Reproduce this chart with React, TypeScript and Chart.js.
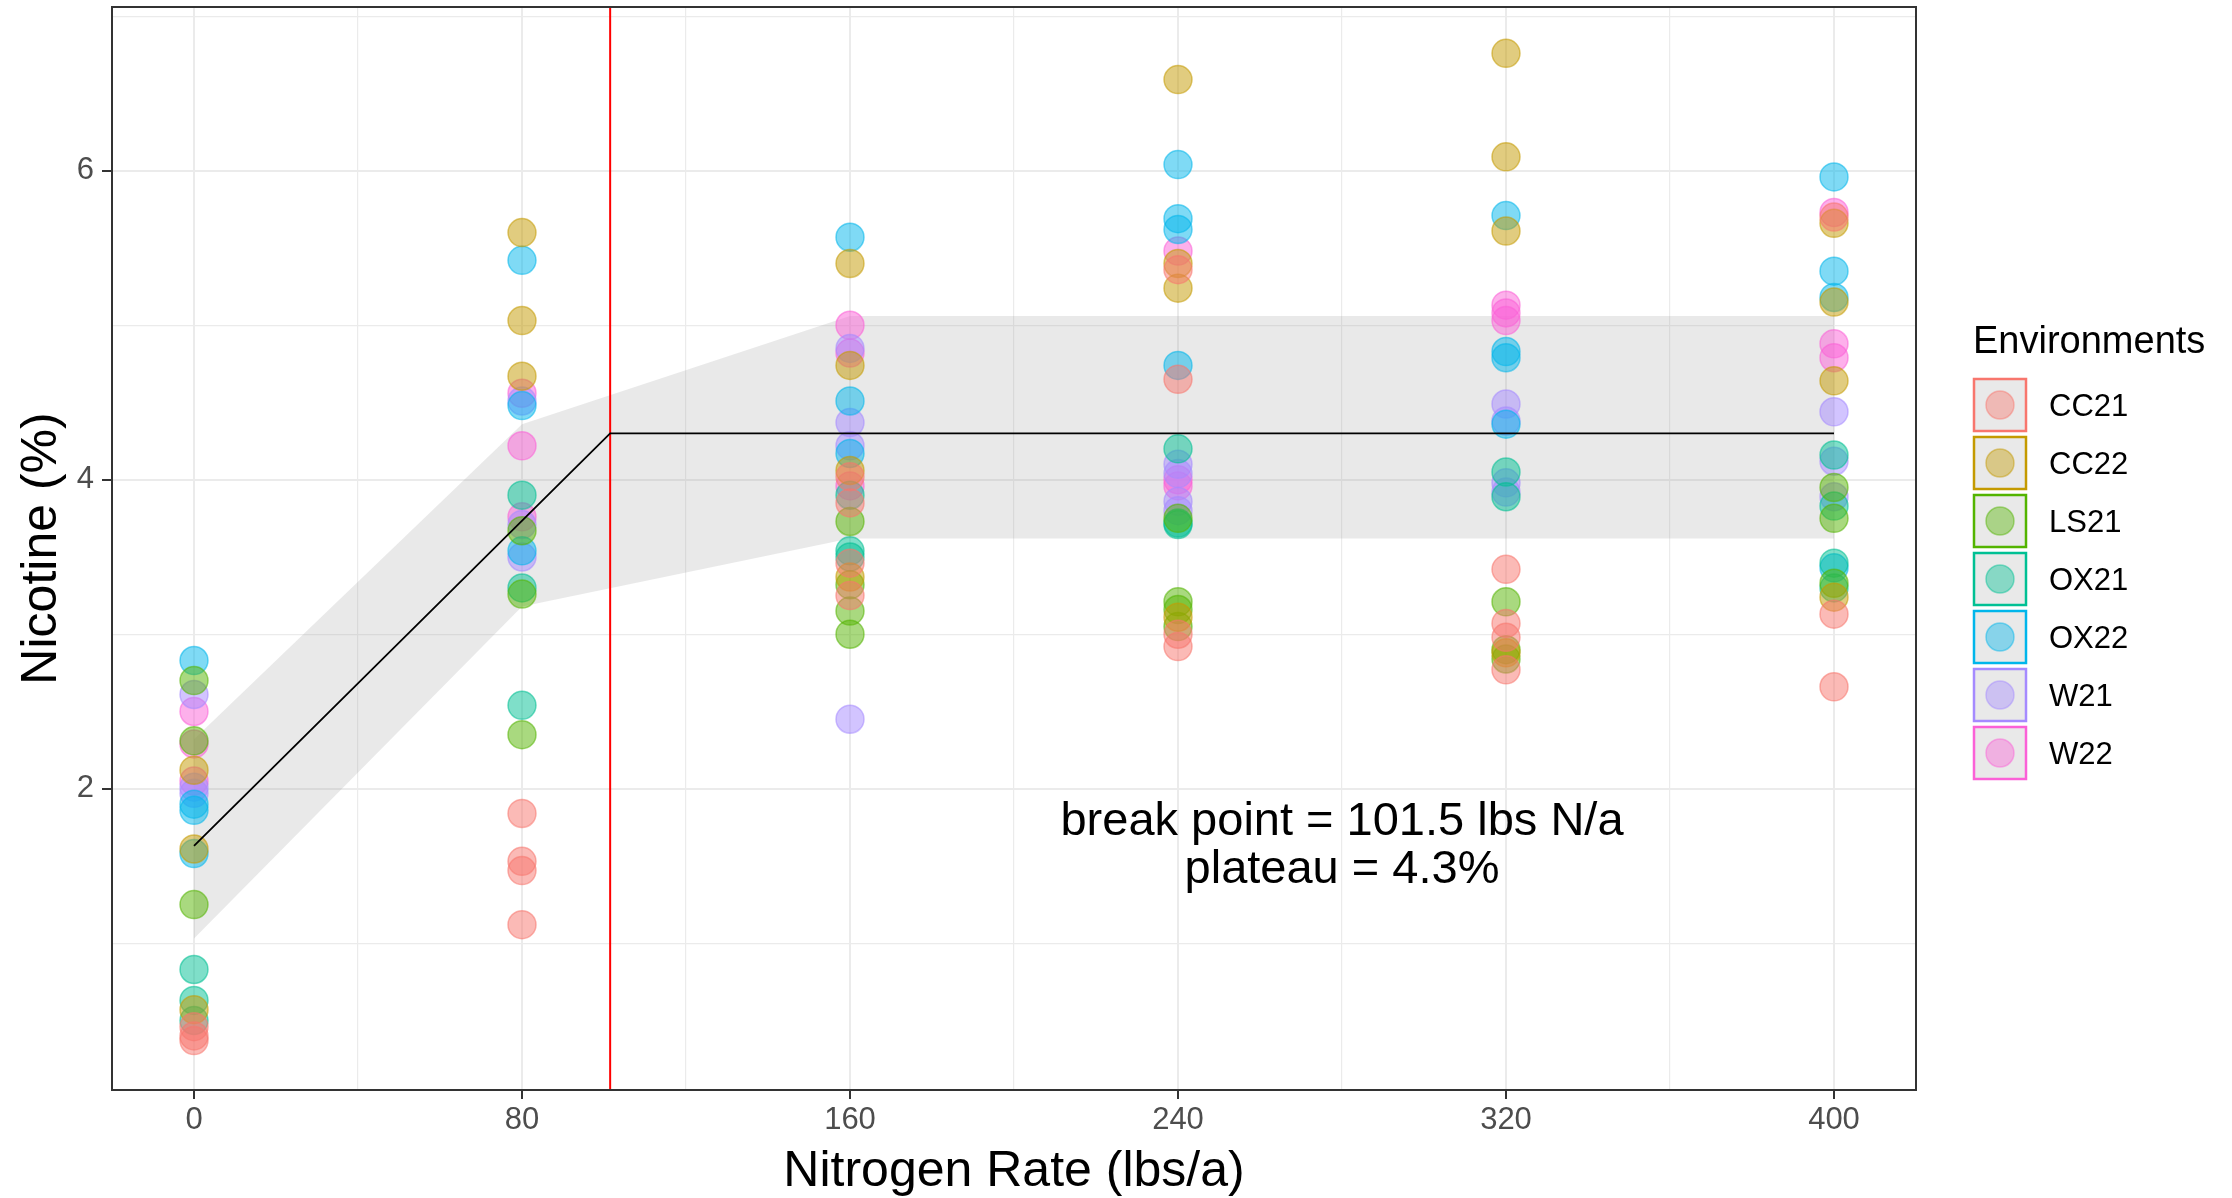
import React, { useEffect, useRef } from 'react';
import { Chart, registerables } from 'chart.js';

Chart.register(...registerables);

const FONT = '"Liberation Sans", Arial, Helvetica, sans-serif';
const W = 2232;
const H = 1198;

// ---- data ----
const rates = [0, 80, 160, 240, 320, 400];
const envNames = ['CC21', 'CC22', 'LS21', 'OX21', 'OX22', 'W21', 'W22'];
const envColors = ['#F8766D', '#C49A00', '#53B400', '#00C094', '#00B6EB', '#A58AFF', '#FB61D7'];

// nicotine (%) per rate (outer index follows `rates`)
const CC21 = [[0.46, 0.40, 0.37], [1.84, 1.53, 1.47, 1.12], [4.02, 3.85, 3.46, 3.25], [5.36, 4.65, 3.00, 2.92], [3.42, 3.07, 2.98, 2.77], [5.70, 3.13, 2.66]];
const CC22 = [[2.12, 1.61, 0.57], [5.60, 5.03, 4.67], [5.40, 4.74, 4.06, 3.37], [6.59, 5.40, 5.24, 3.11], [6.76, 6.09, 5.61, 2.88], [5.66, 5.15, 4.64, 3.24]];
const LS21 = [[2.70, 2.31, 1.25], [3.67, 3.26, 2.35], [3.73, 3.32, 3.15, 3.00], [3.75, 3.21, 3.16, 3.05], [3.21, 2.90, 2.84], [3.95, 3.75, 3.33]];
const OX21 = [[0.83, 0.63, 0.50], [3.90, 3.30, 2.54], [3.90, 3.54, 3.50], [4.20, 3.72, 3.71], [4.05, 3.89], [4.16, 3.83, 3.46, 3.30]];
const OX22 = [[2.83, 1.90, 1.86, 1.58], [5.42, 4.48, 3.54], [5.57, 4.51, 4.17], [6.04, 5.69, 5.62, 4.74], [5.71, 4.83, 4.79, 4.36], [5.96, 5.35, 5.18, 3.43]];
const W21 = [[2.61, 2.01, 1.97], [4.51, 3.71, 3.50], [4.85, 4.37, 4.22, 2.45], [4.10, 4.04, 3.86, 3.80], [4.49, 4.38, 3.98, 3.92], [4.44, 4.12, 3.89]];
const W22 = [[2.50, 2.29, 2.05], [4.56, 4.22, 3.76], [5.00, 4.82, 3.96], [5.48, 4.00, 3.96], [5.13, 5.08, 5.03], [5.73, 4.88, 4.79]];
const envValues = [CC21, CC22, LS21, OX21, OX22, W21, W22];

// segmented fit
const fitX = [0, 101.5, 400];
const fitY = [1.63, 4.3, 4.3];
const breakPoint = 101.5;

// confidence band
const bandX = [0, 80, 160, 240, 320, 400];
const bandLow = [1.03, 3.18, 3.62, 3.62, 3.62, 3.62];
const bandHigh = [2.32, 4.36, 5.06, 5.06, 5.06, 5.06];

// axes
const xTicks = [0, 40, 80, 120, 160, 200, 240, 280, 320, 360, 400];
const yTicks = [1, 2, 3, 4, 5, 6, 7];
const X_MIN = -20;
const X_MAX = 420;
const Y_MIN = 0.05;
const Y_MAX = 7.06;

const annotationLines = ['break point = 101.5 lbs N/a', 'plateau = 4.3%'];
const annotationX = 280;
const annotationY = 1.63;

function rgba(hex: string, a: number) {
  const n = parseInt(hex.slice(1), 16);
  return `rgba(${(n >> 16) & 255},${(n >> 8) & 255},${n & 255},${a})`;
}

const zeroPad = () => ({ left: 0, top: 0, right: 0, bottom: 0 });

const decorPlugin = {
  id: 'decor',
  afterDraw(chart: any) {
    const { ctx, chartArea, scales } = chart;
    ctx.save();
    // panel border
    ctx.strokeStyle = '#333333';
    ctx.lineWidth = 2;
    ctx.strokeRect(chartArea.left, chartArea.top, chartArea.right - chartArea.left, chartArea.bottom - chartArea.top);

    // axis titles
    ctx.fillStyle = '#000000';
    ctx.font = `50px ${FONT}`;
    ctx.textAlign = 'center';
    ctx.textBaseline = 'middle';
    ctx.fillText('Nitrogen Rate (lbs/a)', (chartArea.left + chartArea.right) / 2, 1172);
    ctx.save();
    ctx.translate(42, (chartArea.top + chartArea.bottom) / 2);
    ctx.rotate(-Math.PI / 2);
    ctx.fillText('Nicotine (%)', 0, 0);
    ctx.restore();

    // annotation
    const ax = scales.x.getPixelForValue(annotationX);
    const ay = scales.y.getPixelForValue(annotationY);
    ctx.font = `47px ${FONT}`;
    ctx.fillText(annotationLines[0], ax, ay - 24);
    ctx.fillText(annotationLines[1], ax, ay + 24);

    // legend
    ctx.textAlign = 'left';
    ctx.textBaseline = 'alphabetic';
    ctx.font = `38px ${FONT}`;
    ctx.fillText('Environments', 1973, 353);
    ctx.font = `31px ${FONT}`;
    ctx.textBaseline = 'middle';
    envNames.forEach((name, i) => {
      const bx = 1974;
      const by = 379 + 58 * i;
      const s = 52;
      ctx.fillStyle = '#E9E9E9';
      ctx.fillRect(bx, by, s, s);
      ctx.strokeStyle = envColors[i];
      ctx.lineWidth = 2.5;
      ctx.strokeRect(bx, by, s, s);
      ctx.beginPath();
      ctx.arc(bx + s / 2, by + s / 2, 14, 0, Math.PI * 2);
      ctx.fillStyle = rgba(envColors[i], 0.42);
      ctx.fill();
      ctx.strokeStyle = rgba(envColors[i], 0.45);
      ctx.lineWidth = 1.5;
      ctx.stroke();
      ctx.fillStyle = '#000000';
      ctx.fillText(name, 2049, by + s / 2 + 2);
    });
    ctx.restore();
  },
};

export default function App() {
  const ref = useRef<HTMLCanvasElement | null>(null);

  useEffect(() => {
    document.body.style.margin = '0';
    const canvas = ref.current;
    if (!canvas) return;

    const pointSets = envNames.map((name, i) => ({
      type: 'scatter' as const,
      label: name,
      data: envValues[i].flatMap((vals, r) => vals.map((v) => ({ x: rates[r], y: v }))),
      backgroundColor: rgba(envColors[i], 0.5),
      borderColor: rgba(envColors[i], 0.55),
      borderWidth: 1.5,
      pointRadius: 14,
      pointHoverRadius: 14,
      order: 2 + i,
    }));

    const chart = new Chart(canvas, {
      type: 'scatter',
      data: {
        datasets: [
          {
            type: 'line',
            label: 'fit',
            data: fitX.map((x, i) => ({ x, y: fitY[i] })),
            borderColor: '#000000',
            borderWidth: 1.8,
            pointRadius: 0,
            fill: false,
            tension: 0,
            order: 0,
          },
          {
            type: 'line',
            label: 'break',
            data: [
              { x: breakPoint, y: Y_MIN },
              { x: breakPoint, y: Y_MAX },
            ],
            borderColor: '#FF0000',
            borderWidth: 2,
            pointRadius: 0,
            fill: false,
            order: 1,
          },
          ...pointSets,
          {
            type: 'line',
            label: 'bandLow',
            data: bandX.map((x, i) => ({ x, y: bandLow[i] })),
            borderWidth: 0,
            borderColor: 'rgba(0,0,0,0)',
            pointRadius: 0,
            fill: false,
            order: 30,
          },
          {
            type: 'line',
            label: 'bandHigh',
            data: bandX.map((x, i) => ({ x, y: bandHigh[i] })),
            borderWidth: 0,
            borderColor: 'rgba(0,0,0,0)',
            backgroundColor: 'rgba(153,153,153,0.22)',
            pointRadius: 0,
            fill: '-1',
            order: 29,
          },
        ] as any,
      },
      options: {
        animation: false,
        responsive: false,
        maintainAspectRatio: false,
        layout: { autoPadding: false, padding: { left: 0, top: 7, right: W - 1916, bottom: 0 } },
        plugins: {
          legend: { display: false },
          tooltip: { enabled: false },
        },
        scales: {
          x: {
            type: 'linear',
            min: X_MIN,
            max: X_MAX,
            afterBuildTicks: (s: any) => {
              s.ticks = xTicks.map((v) => ({ value: v }));
            },
            afterFit: (s: any) => {
              s.height = H - 1090;
              s.paddingLeft = 0;
              s.paddingRight = 0;
              s.paddingTop = 0;
              s.paddingBottom = 0;
              s.getPadding = zeroPad;
            },
            ticks: {
              autoSkip: false,
              maxRotation: 0,
              minRotation: 0,
              color: '#4D4D4D',
              font: { family: FONT, size: 31 },
              padding: 3,
              callback: (v: any) => (Number(v) % 80 === 0 ? String(v) : ''),
            },
            grid: {
              color: '#EBEBEB',
              lineWidth: (c: any) => (c.tick && c.tick.value % 80 === 0 ? 2 : 1.2),
              tickColor: (c: any) => (c.tick && c.tick.value % 80 === 0 ? '#333333' : 'rgba(0,0,0,0)'),
              tickLength: 9,
              tickWidth: 2,
              drawTicks: true,
            },
            border: { display: true, color: '#333333', width: 2 },
          },
          y: {
            type: 'linear',
            min: Y_MIN,
            max: Y_MAX,
            afterBuildTicks: (s: any) => {
              s.ticks = yTicks.map((v) => ({ value: v }));
            },
            afterFit: (s: any) => {
              s.width = 112;
              s.paddingLeft = 0;
              s.paddingRight = 0;
              s.paddingTop = 0;
              s.paddingBottom = 0;
              s.getPadding = zeroPad;
            },
            ticks: {
              autoSkip: false,
              color: '#4D4D4D',
              font: { family: FONT, size: 31 },
              padding: 8,
              callback: (v: any) => (Number(v) % 2 === 0 ? String(v) : ''),
            },
            grid: {
              color: '#EBEBEB',
              lineWidth: (c: any) => (c.tick && c.tick.value % 2 === 0 ? 2 : 1.2),
              tickColor: (c: any) => (c.tick && c.tick.value % 2 === 0 ? '#333333' : 'rgba(0,0,0,0)'),
              tickLength: 10,
              tickWidth: 2,
              drawTicks: true,
            },
            border: { display: true, color: '#333333', width: 2 },
          },
        },
      } as any,
      plugins: [decorPlugin],
    });

    return () => {
      chart.destroy();
    };
  }, []);

  return (
    <div style={{ position: 'absolute', left: 0, top: 0, width: W, height: H, background: '#ffffff' }}>
      <canvas ref={ref} width={W} height={H} style={{ display: 'block', width: W, height: H }} />
    </div>
  );
}
